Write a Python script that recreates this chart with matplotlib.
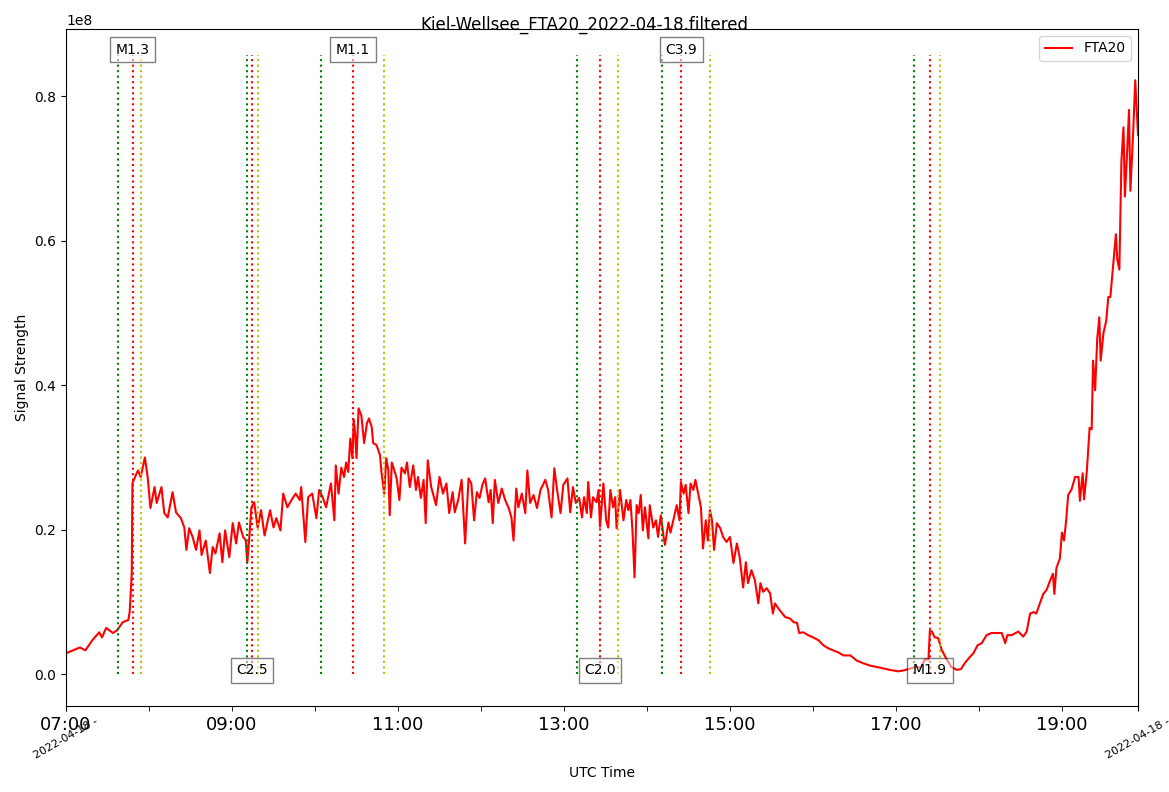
import pandas as pd
import matplotlib
matplotlib.use("Agg")
from matplotlib import pyplot as plt
import matplotlib.dates as mdates
from matplotlib.ticker import FuncFormatter, FixedLocator

# signal, minutes after 07:00 UTC, values in 1e6
minutes = [0, 5, 10, 14, 19, 24, 26, 29, 34, 37, 41, 45, 46, 47.5, 48, 49, 52, 54, 57, 59,
           61, 64, 65.5, 69, 71, 73.5, 77, 79.5, 83, 85.5, 87, 89, 91.5, 94, 96.5, 98, 101, 104, 106, 108,
           111, 113, 115, 118, 120.5, 123, 125, 128, 130, 131, 132.5, 134, 136, 138.5, 141, 143.5, 147.5, 150, 152, 155,
           157, 160, 163, 166, 169, 170, 173, 175, 178, 181, 183, 185.5, 188, 191.5, 194,
           195, 197, 199, 201, 202.5, 204, 205.5, 207, 208, 209, 210, 211.5, 213.5, 215.5, 217.5, 219, 221, 222, 224.5, 227,
           228, 230, 231.5, 233, 234, 235.5, 238, 239, 241, 242.5, 245, 246.5, 248.5, 251, 253, 254.5, 256.5, 258.5, 260, 261.5,
           264, 266, 267.5, 270, 272.5, 275, 277, 279.5, 281, 283.5, 286, 288.5, 291, 293, 295, 297, 299, 301, 303, 305.5,
           307, 308.5, 310, 312.5, 315, 317.5, 320, 322, 323.5, 325.5, 327, 329.5, 332, 333.5, 335.5, 338, 340.5, 343, 346.5, 348.5,
           351, 353, 355, 357.5, 359.5, 362.5, 364.5, 366.5, 368.5, 371, 373, 374.5, 376.5, 377.5, 379.5, 381, 383.5, 385,
           386, 388.5, 390.5, 392, 393.5, 395.5, 397, 398, 400.5, 403, 405, 406.5, 408, 409.5, 411, 412.5, 414, 415.5, 417, 418.5,
           421, 422, 424.5, 426.5, 428, 430, 432, 433, 435.5, 437, 439.5, 441.5, 443.5, 444.5, 446.5, 448, 450, 451.5, 453.5, 455,
           457, 459, 460.5, 462.5, 464, 465.5, 467, 468.5, 470.5, 473, 475, 477.5, 480, 482.5, 485, 487, 489.5, 491.5, 493, 495.5,
           498, 500.5, 502, 504, 506.5, 509, 511, 512.5, 515, 517, 520, 523.5, 526, 528.5, 530, 533, 536.5, 540, 544, 547.5,
           551, 554.5, 558.5, 562, 567, 571.5, 576.5, 581, 586, 591, 595.5, 601.5,
           605, 609, 614, 618, 621, 623.5, 624.5, 626, 628, 630.5, 633, 636.5, 640, 644, 647, 650, 653.5, 656, 659, 662,
           665.5, 669, 673, 676.5, 679, 680.5, 683.5, 688.5, 692, 694.5, 697, 699.5, 701.5, 704, 706.5, 709, 711.5, 713.5, 714.5, 716,
           718.5, 720, 721.5, 723, 724.5, 727, 729.5, 732, 733, 735, 736, 738, 740, 741.5, 742.5, 744, 745.5, 747, 748, 750,
           752, 753.5, 755, 757, 759, 760, 761.5, 763, 764.5, 765.5, 767, 768.5, 769.5, 771.5, 773, 775]
signal = [2.9, 3.3, 3.7, 3.3, 4.7, 5.8, 5.1, 6.4, 5.7, 6.1, 7.2, 7.5, 8.6, 14.0, 26.4, 26.9, 28.2, 27.3, 30.0, 27.3,
          23.0, 25.9, 23.7, 25.9, 22.3, 21.7, 25.2, 22.4, 21.6, 20.3, 17.2, 20.2, 19.0, 17.2, 19.9, 16.5, 18.5, 14.0, 17.6, 16.7,
          19.5, 15.5, 19.9, 16.2, 20.9, 18.1, 21.0, 19.0, 18.5, 15.4, 19.0, 23.1, 23.8, 20.3, 22.7, 19.2, 22.7, 20.3, 21.6, 19.9,
          25.0, 23.1, 24.1, 25.0, 24.1, 25.9, 18.3, 24.5, 25.0, 21.6, 25.5, 24.5, 23.1, 26.4, 21.3,
          28.9, 25.0, 28.6, 27.3, 29.3, 28.0, 32.6, 29.9, 35.2, 33.3, 29.9, 36.8, 35.8, 32.0, 34.7, 35.4, 34.2, 32.0, 31.7, 30.3,
          28.0, 25.0, 29.9, 28.2, 22.0, 29.3, 27.8, 27.1, 24.1, 28.6, 27.8, 29.3, 25.9, 28.9, 25.5, 27.3, 24.4, 26.9, 20.9, 29.6,
          25.9, 24.5, 23.4, 27.3, 25.0, 26.4, 22.3, 25.2, 22.4, 24.1, 26.9, 18.1, 27.1, 26.4, 21.3, 25.2, 24.4, 26.2, 27.1, 23.8,
          25.5, 20.9, 26.9, 23.7, 25.7, 24.1, 23.0, 21.7, 18.5, 25.7, 23.1, 25.0, 22.3, 28.2, 23.7, 24.8, 23.0, 25.5, 26.9, 25.5,
          21.7, 28.5, 25.5, 22.3, 26.2, 27.1, 22.4, 25.9, 23.7, 24.4, 21.7, 24.5, 22.3, 26.6, 21.7, 24.5, 23.8, 25.5,
          20.4, 26.4, 21.3, 20.3, 25.5, 23.1, 24.5, 20.2, 25.5, 21.3, 24.1, 22.7, 24.1, 19.9, 13.4, 23.4, 22.3, 24.8, 19.9, 23.1,
          18.8, 23.4, 20.3, 21.3, 19.0, 22.0, 19.0, 17.9, 21.0, 19.6, 21.7, 23.4, 21.3, 26.6, 25.0, 26.2, 22.3, 26.4, 25.5, 26.9,
          25.0, 23.1, 17.4, 21.3, 18.5, 22.7, 21.3, 17.2, 20.9, 20.2, 19.0, 18.3, 19.0, 15.4, 18.1, 16.2, 12.0, 15.5, 12.6, 14.4,
          13.0, 9.8, 12.6, 11.4, 11.9, 11.2, 8.4, 9.8, 9.1, 8.6, 7.9, 7.7, 7.2, 7.1, 5.7, 5.8, 5.4, 5.1, 4.7, 4.0,
          3.6, 3.3, 3.0, 2.6, 2.6, 1.9, 1.5, 1.2, 1.0, 0.8, 0.6, 0.4,
          0.5, 0.7, 1.0, 0.9, 2.1, 2.0, 6.0, 5.9, 5.1, 5.0, 3.4, 2.1, 1.0, 0.6, 0.7, 1.6, 2.4, 2.9, 4.0, 4.3,
          5.4, 5.7, 5.7, 5.7, 4.3, 5.4, 5.4, 5.9, 5.2, 5.9, 8.4, 8.6, 8.4, 9.8, 11.1, 11.7, 13.0, 13.9, 11.1, 14.7,
          16.0, 19.6, 18.5, 21.2, 24.8, 25.6, 27.3, 27.3, 24.0, 27.8, 24.2, 28.1, 34.1, 33.9, 43.4, 39.3, 46.4, 49.4, 43.4, 47.2,
          48.9, 52.2, 52.2, 56.5, 60.9, 57.4, 56.0, 71.0, 75.7, 66.1, 71.8, 78.1, 66.9, 75.1, 82.2, 74.6]

# flares: class, start, peak, end
flare_class = ['M1.3', 'C2.5', 'M1.1', 'C2.0', 'C3.9', 'M1.9']
flare_start = ['07:37:40', '09:10:40', '10:04:20', '13:09:10', '14:10:50', '17:13:00']
flare_peak = ['07:48:20', '09:14:30', '10:27:30', '13:26:00', '14:24:40', '17:24:40']
flare_end = ['07:54:10', '09:18:50', '10:50:00', '13:39:00', '14:45:30', '17:31:50']

day = '2022-04-18'
t0 = pd.Timestamp(day + ' 07:00')
t = t0 + pd.to_timedelta(minutes, unit='min')
sig = [v * 1e6 for v in signal]

fig = plt.figure(figsize=(11.69, 7.92), dpi=100)
ax = fig.add_axes([0.0565, 0.1086, 0.917, 0.8548])

ax.plot(t, sig, color='red', label='FTA20')

vtop = 0.857e8
for i in range(len(flare_class)):
    ts = pd.Timestamp(day + ' ' + flare_start[i])
    tp = pd.Timestamp(day + ' ' + flare_peak[i])
    te = pd.Timestamp(day + ' ' + flare_end[i])
    ax.vlines(ts, 0, vtop, colors='g', linestyles=':')
    ax.vlines(tp, 0, vtop, colors='r', linestyles=':')
    ax.vlines(te, 0, vtop, colors='y', linestyles=':')
    ylab = 0.864e8 if i % 2 == 0 else 0.0055e8
    ax.text(tp, ylab, flare_class[i], ha='center', va='center', fontsize=10,
            bbox=dict(facecolor='white', alpha=0.5))

ax.set_xlim(t[0], t[-1])
ax.set_ylim(-0.044e8, 0.893e8)
ax.ticklabel_format(axis='y', style='sci', scilimits=(8, 8))

# date at the ends, HH:MM every hour (labels every 2h)
ax.xaxis.set_major_locator(FixedLocator([mdates.date2num(t[0]), mdates.date2num(t[-1])]))
ax.xaxis.set_major_formatter(FuncFormatter(lambda x, pos: day + ' -'))
ax.xaxis.set_minor_locator(mdates.HourLocator(byhour=range(7, 20)))
def hour_fmt(x, pos):
    d = mdates.num2date(x)
    return d.strftime('%H:%M') if d.hour % 2 == 1 else ''
ax.xaxis.set_minor_formatter(FuncFormatter(hour_fmt))
ax.xaxis.remove_overlapping_locs = False
ax.tick_params(axis='x', which='minor', length=3.5, labelsize=13)
ax.tick_params(axis='x', which='major', labelsize=8, labelrotation=30)

ax.set_xlabel('UTC Time')
ax.set_ylabel('Signal Strength')
fig.suptitle('Kiel-Wellsee_FTA20_2022-04-18.filtered', fontsize=12)
ax.legend(loc='upper right')

plt.savefig('out.png')
